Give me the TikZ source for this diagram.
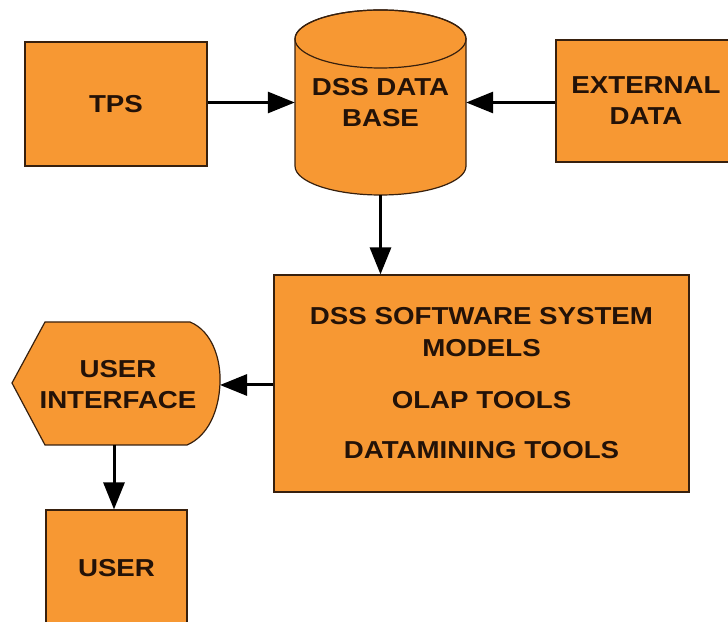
\documentclass[tikz,border=0pt]{standalone}
\usepackage{fontspec}
\setmainfont{Liberation Sans}[FakeStretch=1.13]
\usetikzlibrary{arrows.meta}
\definecolor{boxfill}{RGB}{247,152,51}
\definecolor{boxline}{RGB}{55,32,14}
\definecolor{ink}{RGB}{35,18,8}

\begin{document}
\begin{tikzpicture}[x=1pt,y=1pt,
  outline/.style={draw=boxline, fill=boxfill, line width=1.2pt},
  caption/.style={inner sep=0pt, text=ink, align=center,
    font=\bfseries\fontsize{24.5}{31}\selectfont},
  blk/.style={outline, caption},
  arr/.style={line width=3pt, draw=black, -{Triangle[length=27pt,width=21pt]}}]
\useasboundingbox (0,0) rectangle (728,621);
\clip (0,0) rectangle (728,621);
\fill[white] (0,0) rectangle (728,621);

% source boxes
\node[blk, minimum width=182pt, minimum height=124pt] (tps) at (116,517) {TPS};
\node[blk, minimum width=180pt, minimum height=122pt] (ext) at (646,520) {EXTERNAL\\DATA};

% data base cylinder
\path[outline] (295,582) -- (295,455)
  arc[start angle=180, end angle=360, x radius=85.5, y radius=29]
  -- (466,582)
  arc[start angle=0, end angle=180, x radius=85.5, y radius=29] -- cycle;
\draw[draw=boxline, line width=1.2pt] (380.5,582) ellipse [x radius=85.5, y radius=29];
\node[caption, minimum width=171pt, minimum height=185pt] (db) at (380.5,518.5) {DSS DATA\\BASE};

% software system
\node[blk, minimum width=415pt, minimum height=217pt,
  font=\bfseries\fontsize{24.5}{32}\selectfont] (sw) at (481.5,237.5)
  {DSS SOFTWARE SYSTEM\\MODELS\\[20pt]OLAP TOOLS\\[18pt]DATAMINING TOOLS};

% user interface display shape
\coordinate (uiR) at (220,236);
\coordinate (uiB) at (114,176);
\path[outline] (12,238) -- (45,299) -- (190,299)
  .. controls (212,290) and (221,262) .. (220,238)
  .. controls (219,210) and (208,185) .. (187,176)
  -- (45,176) -- cycle;
\node[caption] (ui) at (118,236) {USER\\INTERFACE};

% user
\node[blk, minimum width=141pt, minimum height=116pt] (user) at (116.5,53) {USER};

% flows
\draw[arr] (tps.east |- db.west) -- (db.west);
\draw[arr] (ext.west |- db.east) -- (db.east);
\draw[arr] (db.south) -- (db.south |- sw.north);
\draw[arr] (sw.west |- uiR) -- (uiR);
\draw[arr] (uiB) -- (uiB |- user.north);
\end{tikzpicture}
\end{document}
